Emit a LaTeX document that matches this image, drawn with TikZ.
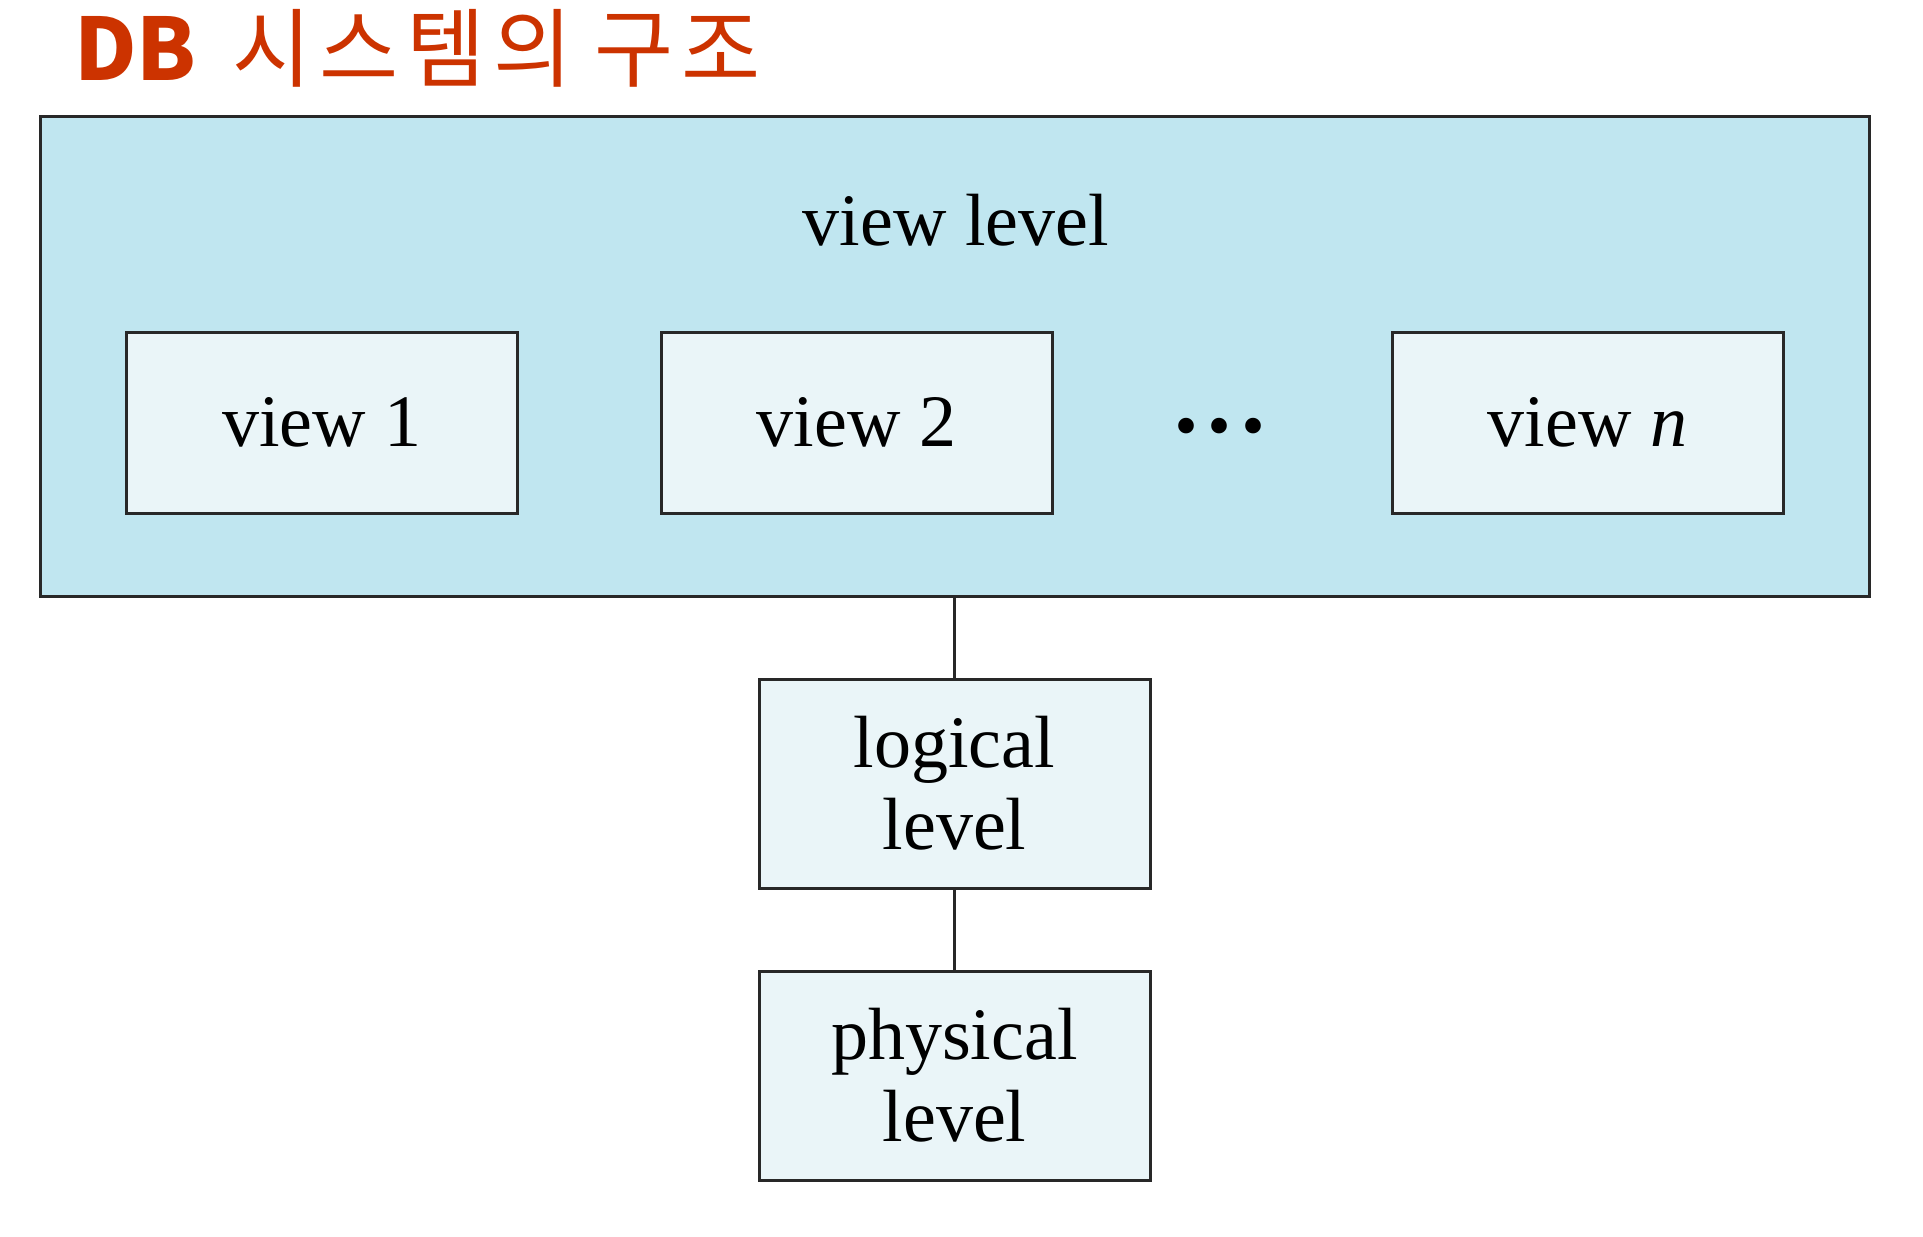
\documentclass[tikz,border=0pt]{standalone}
\usepackage{fontspec}
\setmainfont{Liberation Serif}
\newfontfamily\krfont{Noto Sans CJK KR}
\newfontfamily\krwide[LetterSpace=9]{Noto Sans CJK KR}
\usetikzlibrary{positioning}

\definecolor{titlered}{RGB}{204,51,0}
\definecolor{viewblue}{RGB}{192,230,240}
\definecolor{boxfill}{RGB}{234,245,248}
\definecolor{edgegray}{RGB}{40,40,40}

\tikzset{
  levelbox/.style={draw=edgegray, line width=3pt, fill=boxfill, inner sep=0pt,
    minimum width=391pt, font=\fontsize{74}{82}\selectfont, align=center},
  viewbox/.style={levelbox, minimum height=181pt},
  tallbox/.style={levelbox, minimum height=209pt}
}

\begin{document}
\begin{tikzpicture}[x=1pt, y=-1pt]
  \useasboundingbox (0,0) rectangle (1923,1237);

  % title
  \node[anchor=base west, inner sep=0pt, text=titlered,
        font=\fontsize{86}{100}\selectfont] (title) at (74,80)
        {{\krfont\bfseries DB}\hspace{36pt}{\krwide 시스템의\hspace{22pt}구조}};

  % view level frame
  \node[draw=edgegray, line width=3pt, fill=viewblue, inner sep=0pt,
        minimum width=1829pt, minimum height=480pt] (viewlvl) at (954.5,356) {};
  \node[anchor=base, inner sep=0pt, font=\fontsize{74}{82}\selectfont] (viewlbl)
        at (956,245) {view level};

  \node[viewbox] (view1) at (322,422.5) {view 1};
  \node[viewbox] (view2) at (856.5,422.5) {view 2};
  \node[inner sep=0pt, font=\bfseries\fontsize{96}{100}\selectfont] (dots) at (1220,426)
        {.\hspace{10pt}.\hspace{10pt}.};
  \node[viewbox] (viewn) at (1587.5,422.5) {view \textit{n}};

  % lower levels
  \node[tallbox] (logical) at (954.5,783.5) {logical\\level};
  \node[tallbox] (physical) at (954.5,1075.5) {physical\\level};

  \draw[edgegray, line width=3pt] (viewlvl.south) -- (logical.north);
  \draw[edgegray, line width=3pt] (logical.south) -- (physical.north);
\end{tikzpicture}
\end{document}
